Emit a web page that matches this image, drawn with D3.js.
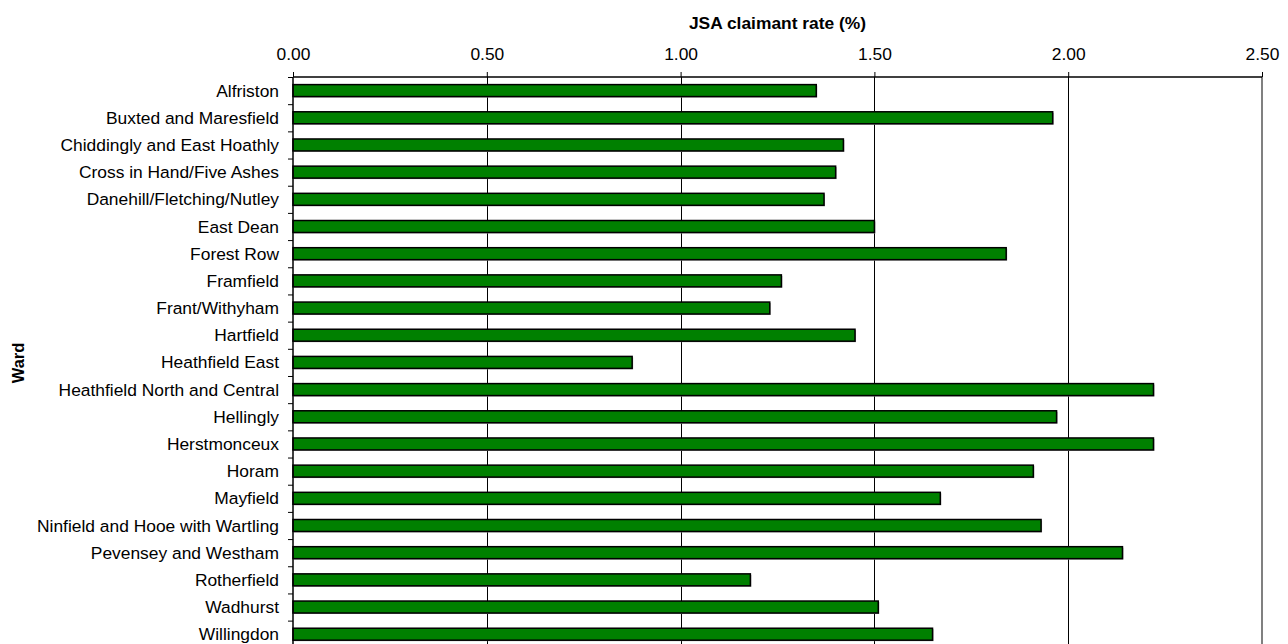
<!DOCTYPE html>
<html>
<head>
<meta charset="utf-8">
<script src="https://cdn.jsdelivr.net/npm/d3@7"></script>
<style>
  html, body { margin: 0; padding: 0; background: #fff; }
  svg { display: block; }
  text { font-family: "Liberation Sans", Arial, sans-serif; fill: #000; }
</style>
</head>
<body>
<svg id="chart" width="1288" height="644"></svg>
<script>
const wards = [
  "Alfriston", "Buxted and Maresfield", "Chiddingly and East Hoathly",
  "Cross in Hand/Five Ashes", "Danehill/Fletching/Nutley", "East Dean",
  "Forest Row", "Framfield", "Frant/Withyham", "Hartfield", "Heathfield East",
  "Heathfield North and Central", "Hellingly", "Herstmonceux", "Horam",
  "Mayfield", "Ninfield and Hooe with Wartling", "Pevensey and Westham",
  "Rotherfield", "Wadhurst", "Willingdon"
];
const rates = [
  1.35, 1.96, 1.42, 1.40, 1.37, 1.50, 1.84, 1.26, 1.23, 1.45, 0.875,
  2.22, 1.97, 2.22, 1.91, 1.67, 1.93, 2.14, 1.18, 1.51, 1.65
];
const xTicks = [0, 0.5, 1.0, 1.5, 2.0, 2.5];
const xTitle = "JSA claimant rate (%)";
const yTitle = "Ward";

(function () {
const pL = 293, pR = 1262, pT = 77, pB = 647.8;
const fs = 17.4;
const svg = d3.select("#chart");

const x = d3.scaleLinear().domain([0, 2.5]).range([pL, pR]);
const y = d3.scaleBand().domain(wards).range([pT, pB])
  .paddingInner(0.56).paddingOuter(0.28);
const yEdge = d3.scaleLinear().domain([0, wards.length]).range([pT, pB]);

// gridlines
svg.append("g").selectAll("line")
  .data(xTicks.filter(t => t > 0 && t < 2.5))
  .join("line")
  .attr("x1", d => Math.round(x(d)) + 0.5).attr("x2", d => Math.round(x(d)) + 0.5)
  .attr("y1", pT).attr("y2", pB)
  .attr("stroke", "#000").attr("stroke-width", 1);

// right border of plot area
svg.append("line")
  .attr("x1", x(2.5)).attr("x2", x(2.5))
  .attr("y1", pT).attr("y2", pB)
  .attr("stroke", "#808080").attr("stroke-width", 2);

// bar shadows
svg.append("g").selectAll("rect")
  .data(wards)
  .join("rect")
  .attr("x", x(0) + 1)
  .attr("y", d => y(d) + 1)
  .attr("width", (d, i) => x(rates[i]) - x(0))
  .attr("height", y.bandwidth())
  .attr("fill", "#a0a0a0");

// bars
svg.append("g").selectAll("rect")
  .data(wards)
  .join("rect")
  .attr("x", x(0))
  .attr("y", d => y(d))
  .attr("width", (d, i) => x(rates[i]) - x(0))
  .attr("height", y.bandwidth())
  .attr("fill", "#008000")
  .attr("stroke", "#000")
  .attr("stroke-width", 1.5);

// top axis
const xAxis = d3.axisTop(x).tickValues(xTicks).tickFormat(d3.format(".2f"))
  .tickSize(5).tickPadding(12);
const gx = svg.append("g").attr("transform", `translate(0,${pT})`).call(xAxis);
gx.select(".domain").attr("stroke", "#000").attr("stroke-width", 1.5)
  .attr("d", `M${pL},0H${pR}`);
gx.selectAll(".tick line").attr("stroke", "#000");
gx.selectAll(".tick text").attr("font-size", fs)
  .style("font-family", '"Liberation Sans", Arial, sans-serif');

// left axis (ticks at category boundaries)
const yAxis = d3.axisLeft(yEdge).tickValues(d3.range(0, wards.length + 1))
  .tickFormat("").tickSize(5);
const gy = svg.append("g").attr("transform", `translate(${pL},0)`).call(yAxis);
gy.select(".domain").attr("stroke", "#000").attr("stroke-width", 1.5)
  .attr("d", `M0,${pT}V${pB}`);
gy.selectAll(".tick line").attr("stroke", "#000");

// category labels
svg.append("g").selectAll("text")
  .data(wards)
  .join("text")
  .attr("x", pL - 14)
  .attr("y", d => y(d) + y.bandwidth() / 2)
  .attr("dy", "0.35em")
  .attr("text-anchor", "end")
  .attr("font-size", fs)
  .text(d => d);

// axis titles
svg.append("text")
  .attr("x", (pL + pR) / 2).attr("y", 29)
  .attr("text-anchor", "middle")
  .attr("font-size", fs).attr("font-weight", "bold")
  .text(xTitle);

svg.append("text")
  .attr("transform", "translate(24,363) rotate(-90)")
  .attr("text-anchor", "middle")
  .attr("font-size", 16.5).attr("font-weight", "bold")
  .text(yTitle);
})();
</script>
</body>
</html>
